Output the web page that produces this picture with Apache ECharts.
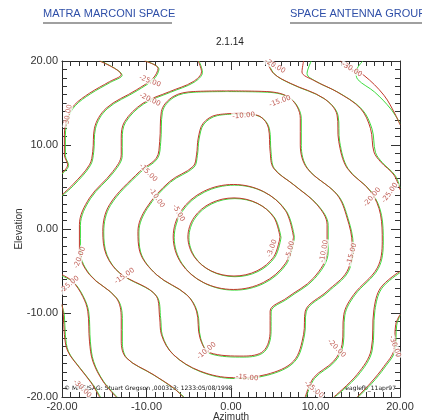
<!DOCTYPE html>
<html><head><meta charset="utf-8">
<script src="https://cdn.jsdelivr.net/npm/echarts@6/dist/echarts.min.js"></script>
<style>html,body{margin:0;padding:0;background:#fff}#c{width:422px;height:420px}</style>
</head><body><div id="c"></div>
<script>
// ---------- data (azimuth, elevation in degrees) ----------
const tickValues = [-20, -10, 0, 10, 20];
const levels = ['-3.00','-5.00','-10.00','-15.00','-20.00','-25.00','-30.00'];

// red contours
const red_m3 = [[5.80,-0.95],[5.07,1.38],[3.08,3.08],[0.35,3.70],[-2.38,3.08],[-4.37,1.38],[-5.10,-0.95],[-4.37,-3.28],[-2.38,-4.98],[0.35,-5.60],[3.08,-4.98],[5.07,-3.28],[5.80,-0.95]];
const red_m5 = [[7.40,-0.95],[6.45,2.18],[3.84,4.46],[0.28,5.30],[-3.28,4.46],[-5.89,2.18],[-6.84,-0.95],[-5.89,-4.08],[-3.28,-6.36],[0.28,-7.20],[3.84,-6.36],[6.45,-4.08],[7.40,-0.95]];
const red_m10 = [[1.47,13.78],[-1.70,13.58],[-3.29,12.59],[-3.88,10.81],[-4.08,8.83],[-4.48,7.45],[-7.25,5.66],[-10.02,2.50],[-11.01,-0.28],[-10.81,-2.65],[-8.83,-5.43],[-5.27,-7.80],[-4.08,-9.78],[-3.68,-12.95],[-2.50,-14.73],[1.47,-15.13],[3.84,-14.53],[4.63,-12.16],[4.63,-9.78],[6.61,-8.20],[9.78,-5.82],[11.37,-2.65],[11.37,0.51],[10.18,2.89],[7.41,5.27],[5.03,7.25],[4.63,9.23],[4.44,12.0],[3.45,13.39],[1.47,13.78]];
const red_m15 = [[-0.51,16.44],[-4.48,16.36],[-6.85,15.76],[-8.24,13.98],[-8.44,10.42],[-8.83,8.44],[-10.81,6.85],[-14.38,2.89],[-15.17,-0.28],[-14.77,-3.05],[-13.19,-5.23],[-8.83,-8.0],[-8.44,-10.57],[-8.24,-12.55],[-6.85,-14.93],[-3.68,-16.91],[0.28,-17.70],[4.24,-17.31],[7.41,-15.72],[8.59,-12.55],[8.79,-9.78],[11.37,-7.41],[13.74,-5.03],[14.34,-1.86],[13.74,1.31],[12.55,4.08],[8.99,7.25],[8.20,10.02],[8.20,13.19],[7.01,15.56],[4.24,16.36],[-0.51,16.44]];
const red_m20a = [[-3.88,20],[-3.49,18.73],[-4.48,17.54],[-7.25,16.36],[-10.42,14.97],[-12.59,12.79],[-12.99,10.81],[-12.99,8.83],[-13.98,6.85],[-16.75,3.68],[-17.94,0.51],[-17.94,-2.65],[-16.75,-5.43],[-13.58,-8.20],[-12.99,-10.57],[-12.99,-13.35],[-12.40,-15.33],[-9.23,-17.31],[-6.85,-18.89],[-5.66,-20]];
const red_m20b = [[4.24,20],[5.03,18.53],[7.01,17.35],[10.97,15.56],[12.55,13.58],[12.75,10.42],[13.74,7.25],[16.51,4.48],[17.70,1.70],[17.90,-1.47],[17.31,-4.63],[14.53,-7.80],[13.35,-10.18],[13.15,-13.74],[12.16,-15.72],[9.78,-17.70],[8.79,-20]];
const red_m25a = [[-10.22,20],[-8.63,19.13],[-9.23,17.94],[-11.21,16.55],[-14.77,14.38],[-16.16,12.0],[-16.36,9.23],[-16.75,7.64],[-18.73,5.27],[-20,4.08]];
const red_m25b = [[-20,-5.43],[-18.73,-6.26],[-17.54,-8.04],[-16.95,-9.78],[-16.75,-13.35],[-16.36,-15.72],[-15.17,-18.10],[-13.58,-20]];
const red_m25c = [[8.59,20],[8.40,18.69],[9.78,17.70],[12.55,16.32],[15.33,14.34],[16.51,11.96],[16.91,9.19],[17.70,8.0],[19.29,6.42],[20,4.67]];
const red_m25d = [[20,-5.03],[17.70,-7.01],[16.91,-9.62],[16.59,-14.38],[14.93,-17.31],[12.16,-20]];
const red_m30a = [[-15.56,20],[-12.99,18.38],[-14.38,17.54],[-16.75,16.16],[-18.53,14.77],[-19.33,13.39],[-19.72,11.21],[-19.72,8.83],[-19.33,7.64],[-20,6.65]];
const red_m30b = [[-20,-8.99],[-19.84,-10.18],[-19.72,-12.55],[-19.33,-14.53],[-17.94,-16.51],[-16.55,-18.30],[-15.56,-20]];
const red_m30c = [[12.95,20],[14.14,19.09],[15.72,18.30],[18.10,15.92],[19.49,13.54],[20,12.40]];
const red_m30d = [[20,-10.18],[19.49,-11.37],[19.29,-14.38],[18.10,-16.36],[16.51,-18.34],[14.93,-20]];

// green contours
const green_m3 = [[5.92,-1.03],[5.19,1.30],[3.20,3.0],[0.47,3.62],[-2.26,3.0],[-4.25,1.30],[-4.98,-1.03],[-4.25,-3.36],[-2.26,-5.06],[0.47,-5.68],[3.20,-5.06],[5.19,-3.36],[5.92,-1.03]];
const green_m5 = [[7.52,-1.03],[6.57,2.10],[3.96,4.38],[0.40,5.22],[-3.16,4.38],[-5.77,2.10],[-6.72,-1.03],[-5.77,-4.16],[-3.16,-6.44],[0.40,-7.28],[3.96,-6.44],[6.57,-4.16],[7.52,-1.03]];
const green_m10 = [[1.55,13.72],[-1.6,13.5],[-3.2,12.5],[-3.78,10.7],[-3.98,8.75],[-4.38,7.35],[-7.15,5.58],[-9.92,2.42],[-10.9,-0.36],[-10.7,-2.73],[-8.72,-5.52],[-5.16,-7.9],[-3.98,-9.88],[-3.58,-13.05],[-2.42,-14.85],[1.55,-15.25],[3.94,-14.62],[4.74,-12.24],[4.75,-9.86],[6.72,-8.28],[9.9,-5.9],[11.5,-2.73],[11.5,0.44],[10.3,2.82],[7.52,5.2],[5.14,7.18],[4.74,9.15],[4.55,11.93],[3.55,13.32],[1.55,13.72]];
const green_m15 = [[-0.42,16.36],[-4.38,16.28],[-6.75,15.68],[-8.12,13.9],[-8.32,10.33],[-8.72,8.36],[-10.7,6.77],[-14.27,2.8],[-15.06,-0.36],[-14.66,-3.13],[-13.08,-5.32],[-8.72,-8.1],[-8.32,-10.66],[-8.13,-12.64],[-6.75,-15.02],[-3.58,-17.0],[0.38,-17.8],[4.35,-17.4],[7.52,-15.8],[8.7,-12.63],[8.9,-9.86],[11.48,-7.5],[13.86,-5.11],[14.46,-1.94],[13.86,1.23],[12.67,4.0],[9.1,7.17],[8.32,9.94],[8.32,13.11],[7.12,15.48],[4.35,16.28],[-0.42,16.36]];
const green_m20a = [[-3.78,20],[-3.38,18.65],[-4.38,17.46],[-7.15,16.28],[-10.32,14.89],[-12.48,12.7],[-12.87,10.73],[-12.87,8.75],[-13.87,6.77],[-16.64,3.6],[-17.82,0.43],[-17.82,-2.73],[-16.62,-5.52],[-13.46,-8.3],[-12.86,-10.66],[-12.86,-13.44],[-12.28,-15.42],[-9.12,-17.4],[-6.75,-18.98],[-5.55,-20]];
const green_m20b = [[4.34,20],[5.14,18.45],[7.12,17.27],[11.08,15.48],[12.67,13.5],[12.87,10.34],[13.86,7.17],[16.63,4.4],[17.82,1.62],[18.02,-1.55],[17.43,-4.71],[14.65,-7.88],[13.47,-10.26],[13.27,-13.82],[12.28,-15.8],[9.9,-17.78],[8.9,-20]];
const green_m25a = [[-10.1,20],[-8.52,19.05],[-9.12,17.86],[-11.1,16.47],[-14.66,14.3],[-16.05,11.92],[-16.25,9.15],[-16.64,7.56],[-18.62,5.19],[-20,3.95]];
const green_m25b = [[-20,-5.6],[-18.62,-6.34],[-17.43,-8.12],[-16.84,-9.86],[-16.64,-13.44],[-16.25,-15.8],[-15.06,-18.18],[-13.47,-20]];
const green_m25c = [[9.5,20],[9.0,18.5],[10.2,17.5],[12.8,16.2],[15.5,14.25],[16.7,11.88],[17.1,9.11],[17.9,7.92],[19.45,6.34],[20,4.9]];
const green_m25d = [[20,-5.2],[17.82,-7.1],[17.03,-9.7],[16.71,-14.46],[15.05,-17.4],[12.28,-20]];
const green_m30a = [[-15.45,20],[-12.88,18.3],[-14.27,17.46],[-16.64,16.08],[-18.42,14.69],[-19.22,13.31],[-19.6,11.13],[-19.6,8.75],[-19.22,7.56],[-20,6.55]];
const green_m30b = [[-20,-9.1],[-19.72,-10.26],[-19.6,-12.63],[-19.22,-14.62],[-17.82,-16.6],[-16.44,-18.38],[-15.45,-20]];
const green_m30c = [[15.6,20],[14.8,18.7],[15.0,17.8],[17.0,16.3],[18.9,14.3],[20,12.6]];
const green_m30d = [[20,-10.3],[19.61,-11.45],[19.41,-14.46],[18.22,-16.44],[16.63,-18.42],[15.05,-20]];

// contour labels: [azimuth, elevation, level index, angle]
const labelPoints = [
  [4.85,-2.3,0,70],[-6.2,1.9,1,-60],[7.0,-2.5,1,75],
  [-8.8,3.7,2,-55],[1.5,13.5,2,5],[11.0,-2.65,2,80],[-2.9,-14.5,2,40],
  [-9.8,6.7,3,-45],[5.8,15.2,3,20],[14.3,-3.0,3,75],[-12.6,-5.6,3,35],[1.9,-17.7,3,-5],
  [-9.6,15.4,4,-25],[-17.9,-3.4,4,70],[16.7,3.8,4,50],[12.5,-14.2,4,-45],[5.2,19.4,4,-30],
  [-9.6,17.6,5,-20],[18.8,4.3,5,55],[-19.1,-6.6,5,40],[9.8,-19.1,5,-40],
  [-19.3,13.5,6,80],[14.3,19.0,6,-30],[19.4,-14.0,6,-70],[-17.6,-19.0,6,-45]
];

// ---------- chart ----------
const chart = echarts.init(document.getElementById('c'));
const RED = '#c0392b', GREEN = '#3ddc3d';
function lineSeries(data, color) {
  return { type: 'line', data: data, showSymbol: false, symbol: 'none', smooth: 0.35,
    lineStyle: { color: color, width: 1 }, silent: true, animation: false, z: color === RED ? 3 : 2 };
}
const redSets = [red_m3, red_m5, red_m10, red_m15, red_m20a, red_m20b, red_m25a, red_m25b, red_m25c, red_m25d, red_m30a, red_m30b, red_m30c, red_m30d];
const greenSets = [green_m3, green_m5, green_m10, green_m15, green_m20a, green_m20b, green_m25a, green_m25b, green_m25c, green_m25d, green_m30a, green_m30b, green_m30c, green_m30d];
const series = [];
greenSets.forEach(d => series.push(lineSeries(d, GREEN)));
redSets.forEach(d => series.push(lineSeries(d, RED)));
series.push({
  type: 'scatter', symbolSize: 0, silent: true, animation: false, z: 5,
  data: labelPoints.map(p => ({ value: [p[0], p[1]],
    label: { show: true, position: 'inside', formatter: levels[p[2]], rotate: p[3],
      fontSize: 7, fontFamily: 'DejaVu Sans', color: '#b0352a', backgroundColor: '#fff', padding: [0, 1] } }))
});

const fmt = v => v.toFixed(2);
const axisCommon = {
  type: 'value', min: -20, max: 20, interval: 10,
  axisLine: { show: true, onZero: false, lineStyle: { color: '#222', width: 1 } },
  axisTick: { show: true, inside: true, length: 9, lineStyle: { color: '#333' } },
  minorTick: { show: true, splitNumber: 10, length: 5, lineStyle: { color: '#333' } },
  splitLine: { show: false }
};
const labelStyle = { fontFamily: 'Liberation Sans', fontSize: 11, color: '#333', formatter: fmt };

chart.setOption({
  animation: false,
  backgroundColor: '#fff',
  grid: { left: 62, top: 61, width: 338, height: 336, containLabel: false, outerBoundsMode: 'none' },
  graphic: [
    { type: 'text', left: 43, top: 8, style: { text: 'MATRA MARCONI SPACE', font: '11px "Liberation Sans"', fill: '#2f4fa8' } },
    { type: 'rect', shape: { x: 43, y: 22, width: 129, height: 2 }, style: { fill: '#a0a0a0' } },
    { type: 'text', left: 290, top: 8, style: { text: 'SPACE ANTENNA GROUP', font: '11px "Liberation Sans"', fill: '#2f4fa8' } },
    { type: 'rect', shape: { x: 290, y: 22, width: 132, height: 2 }, style: { fill: '#a0a0a0' } },
    { type: 'text', left: 216, top: 37, style: { text: '2.1.14', font: '10px "Liberation Sans"', fill: '#222' } },
    { type: 'text', left: 64, top: 385, style: { text: '\u00a9 MMS/SAG: Stuart Gregson ,000313: 1233:05/08/1998', font: '6px "DejaVu Sans"', fill: '#111' } },
    { type: 'text', right: 26, top: 385, style: { text: 'eaglefb_11apr97', font: '6px "DejaVu Sans"', fill: '#111' } }
  ],
  xAxis: [
    Object.assign({}, axisCommon, { position: 'bottom', name: 'Azimuth', nameLocation: 'middle', nameGap: 15,
      nameMoveOverlap: false,
      nameTextStyle: { fontFamily: 'Liberation Sans', fontSize: 10, color: '#333' },
      axisLabel: Object.assign({ margin: 4 }, labelStyle) }),
    Object.assign({}, axisCommon, { position: 'top', axisLabel: { show: false } })
  ],
  yAxis: [
    Object.assign({}, axisCommon, { position: 'left', name: 'Elevation', nameLocation: 'middle', nameGap: 38,
      nameMoveOverlap: false,
      nameTextStyle: { fontFamily: 'Liberation Sans', fontSize: 10, color: '#333' },
      axisLabel: Object.assign({ margin: 4 }, labelStyle) }),
    Object.assign({}, axisCommon, { position: 'right', axisLabel: { show: false } })
  ],
  series: series
});
</script></body></html>
